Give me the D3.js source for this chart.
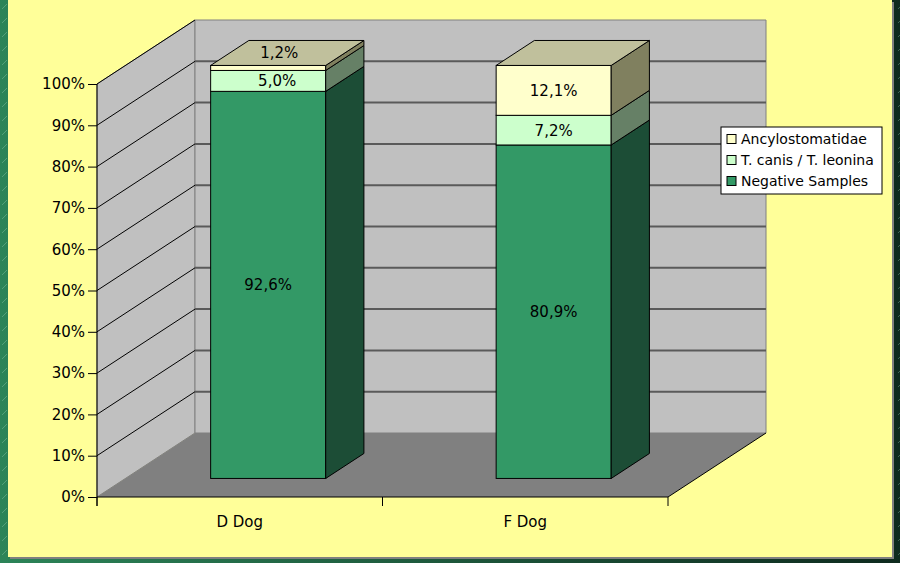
<!DOCTYPE html>
<html>
<head>
<meta charset="utf-8">
<title>Stacked 3D bars</title>
<script src="https://cdn.jsdelivr.net/npm/d3@7"></script>
<style>
    body { margin: 0; background: #1a4a33; }
    svg text { font-family: 'DejaVu Sans', sans-serif; fill: #000; }
</style>
</head>
<body>
<div id="chart"></div>
<script>
// data
var categories = ["D Dog", "F Dog"];
var seriesNames = ["Negative Samples", "T. canis / T. leonina", "Ancylostomatidae"];
var negative = [92.6, 80.9];
var tcanis = [5.0, 7.2];
var ancylo = [1.2, 12.1];
var yTicks = [0, 0.1, 0.2, 0.3, 0.4, 0.5, 0.6, 0.7, 0.8, 0.9, 1];

var W = 900, H = 563;
var front = { faces: ["#339966", "#ccffcc", "#ffffcc"] };
var sides = ["#1c4d36", "#668066", "#80805f"];
var topFace = ["#1f6a48", "#9fbf9f", "#c0c09c"];

// 3d box: front plane + depth offset
var DX = 98, DY = 64;
var d0 = 0.29, d1 = 0.68;   // bar front / back depth

var y = d3.scaleLinear().domain([0, 1]).range([497, 84]);
var x = d3.scaleBand().domain(categories).range([97, 668]);
var barW = x.bandwidth() * 0.403;

function P(px, v, d) { return [px + d * DX, y(v) - d * DY]; }
function poly(pts) { return pts.map(function(p) { return p.join(","); }).join(" "); }

var svg = d3.select("#chart").append("svg").attr("width", W).attr("height", H);
var defs = svg.append("defs");

// border: green gradient with little diagonal dashes
var grad = defs.append("linearGradient").attr("id", "bg");
grad.append("stop").attr("offset", "0%").attr("stop-color", "#2c8458");
grad.append("stop").attr("offset", "100%").attr("stop-color", "#0e2a1e");
var pat = defs.append("pattern").attr("id", "dash").attr("width", 14).attr("height", 14)
    .attr("patternUnits", "userSpaceOnUse");
pat.append("line").attr("x1", 2).attr("y1", 9).attr("x2", 7).attr("y2", 4)
    .attr("stroke", "#9fd4b8").attr("stroke-opacity", 0.35).attr("stroke-width", 1);

svg.append("rect").attr("width", W).attr("height", H).attr("fill", "url(#bg)");
svg.append("rect").attr("width", W).attr("height", H).attr("fill", "url(#dash)");

// panel + shadow
svg.append("rect").attr("x", 10).attr("y", 2).attr("width", 884).attr("height", 557).attr("fill", "#808080");
svg.append("rect").attr("x", 8).attr("y", 0).attr("width", 884).attr("height", 557).attr("fill", "#ffff99");

var x0 = 97, x1 = 668;

// walls and floor
svg.append("polygon")
    .attr("points", poly([P(x0, 0, 0), P(x0, 1, 0), P(x0, 1, 1), P(x0, 0, 1)]))
    .attr("fill", "#c0c0c0").attr("stroke", "#808080");
svg.append("polygon")
    .attr("points", poly([P(x0, 0, 1), P(x0, 1, 1), P(x1, 1, 1), P(x1, 0, 1)]))
    .attr("fill", "#c0c0c0").attr("stroke", "#808080");
svg.append("polygon")
    .attr("points", poly([P(x0, 0, 0), P(x1, 0, 0), P(x1, 0, 1), P(x0, 0, 1)]))
    .attr("fill", "#808080").attr("stroke", "none");
// right edge of floor
svg.append("line")
    .attr("x1", P(x1, 0, 0)[0]).attr("y1", P(x1, 0, 0)[1])
    .attr("x2", P(x1, 0, 1)[0]).attr("y2", P(x1, 0, 1)[1])
    .attr("stroke", "#000");

// gridlines
yTicks.filter(function(t) { return t > 0; }).forEach(function(t) {
    var a = P(x0, t, 0), b = P(x0, t, 1), c = P(x1, t, 1);
    svg.append("line").attr("x1", a[0]).attr("y1", a[1]).attr("x2", b[0]).attr("y2", b[1])
        .attr("stroke", "#000").attr("stroke-width", 1);
    if (t < 1) {
        svg.append("line").attr("x1", b[0]).attr("y1", b[1]).attr("x2", c[0]).attr("y2", c[1])
            .attr("stroke", "#5a5a5a").attr("stroke-width", 2);
    }
});

// axes
var yAxis = d3.axisLeft(y).tickValues(yTicks).tickSize(9).tickPadding(3)
    .tickFormat(function(d) { return Math.round(d * 100) + "%"; });
var gy = svg.append("g").attr("transform", "translate(" + x0 + ",0)").call(yAxis);
gy.select(".domain").remove();
gy.selectAll("text").style("font-size", "15px").style("font-family", "'DejaVu Sans', sans-serif");
svg.append("line").attr("x1", x0).attr("y1", y(1)).attr("x2", x0).attr("y2", y(0) + 9).attr("stroke", "#000");
svg.append("line").attr("x1", x0).attr("y1", y(0)).attr("x2", x1).attr("y2", y(0)).attr("stroke", "#000");
[x0, x0 + x.step(), x1].forEach(function(t) {
    svg.append("line").attr("x1", t).attr("y1", y(0)).attr("x2", t).attr("y2", y(0) + 9).attr("stroke", "#000");
});
svg.selectAll(".cat").data(categories).enter().append("text")
    .attr("class", "cat")
    .attr("x", function(d) { return x(d) + x.bandwidth() / 2; })
    .attr("y", 527)
    .attr("text-anchor", "middle")
    .style("font-size", "15px")
    .text(function(d) { return d; });

// stacked (100%) bars
var rows = categories.map(function(c, i) {
    return { cat: c, s0: negative[i], s1: tcanis[i], s2: ancylo[i] };
});
var stack = d3.stack().keys(["s0", "s1", "s2"]).offset(d3.stackOffsetExpand);
var layers = stack(rows);

function fmt(v) { return v.toFixed(1).replace(".", ",") + "%"; }

rows.forEach(function(row, i) {
    var bx = x(row.cat) + x.bandwidth() / 2 - barW / 2 + d0 * DX;
    var bx2 = bx + barW;
    var dd = d1 - d0;
    var g = svg.append("g");
    layers.forEach(function(layer, k) {
        var lo = layer[i][0], hi = layer[i][1];
        var yl = y(lo) - d0 * DY, yh = y(hi) - d0 * DY;
        g.append("rect").attr("x", bx).attr("y", yh).attr("width", barW).attr("height", yl - yh)
            .attr("fill", front.faces[k]).attr("stroke", "#000").attr("stroke-width", 1);
        g.append("polygon")
            .attr("points", poly([[bx2, yl], [bx2, yh], [bx2 + dd * DX, yh - dd * DY], [bx2 + dd * DX, yl - dd * DY]]))
            .attr("fill", sides[k]).attr("stroke", "#000").attr("stroke-width", 1);
        if (k === layers.length - 1) {
            g.append("polygon")
                .attr("points", poly([[bx, yh], [bx2, yh], [bx2 + dd * DX, yh - dd * DY], [bx + dd * DX, yh - dd * DY]]))
                .attr("fill", topFace[k]).attr("stroke", "#000").attr("stroke-width", 1);
        }
    });
    // labels
    var vals = [row.s0, row.s1, row.s2];
    layers.forEach(function(layer, k) {
        var lo = layer[i][0], hi = layer[i][1];
        var yl = y(lo) - d0 * DY, yh = y(hi) - d0 * DY;
        var lx = (bx + bx2) / 2, ly = (yl + yh) / 2;
        if (yl - yh < 12) {
            lx = (bx + bx2) / 2 + dd * DX / 2 - 8;
            ly = yh - dd * DY / 2;
        } else if (yl - yh < 25) {
            lx += 9;
        }
        svg.append("text").attr("x", lx).attr("y", ly).attr("dy", "0.36em")
            .attr("text-anchor", "middle").style("font-size", "15px")
            .text(fmt(vals[k]));
    });
});

// legend
var lg = svg.append("g").attr("transform", "translate(721,127)");
lg.append("rect").attr("width", 161).attr("height", 67).attr("fill", "#fff").attr("stroke", "#000");
var order = [2, 1, 0];
order.forEach(function(k, j) {
    var cy = 12 + j * 21;
    lg.append("rect").attr("x", 6).attr("y", cy - 4.5).attr("width", 9).attr("height", 9)
        .attr("fill", front.faces[k]).attr("stroke", "#000");
    lg.append("text").attr("x", 20).attr("y", cy).attr("dy", "0.36em")
        .style("font-size", "14px").text(seriesNames[k]);
});
</script>
</body>
</html>
